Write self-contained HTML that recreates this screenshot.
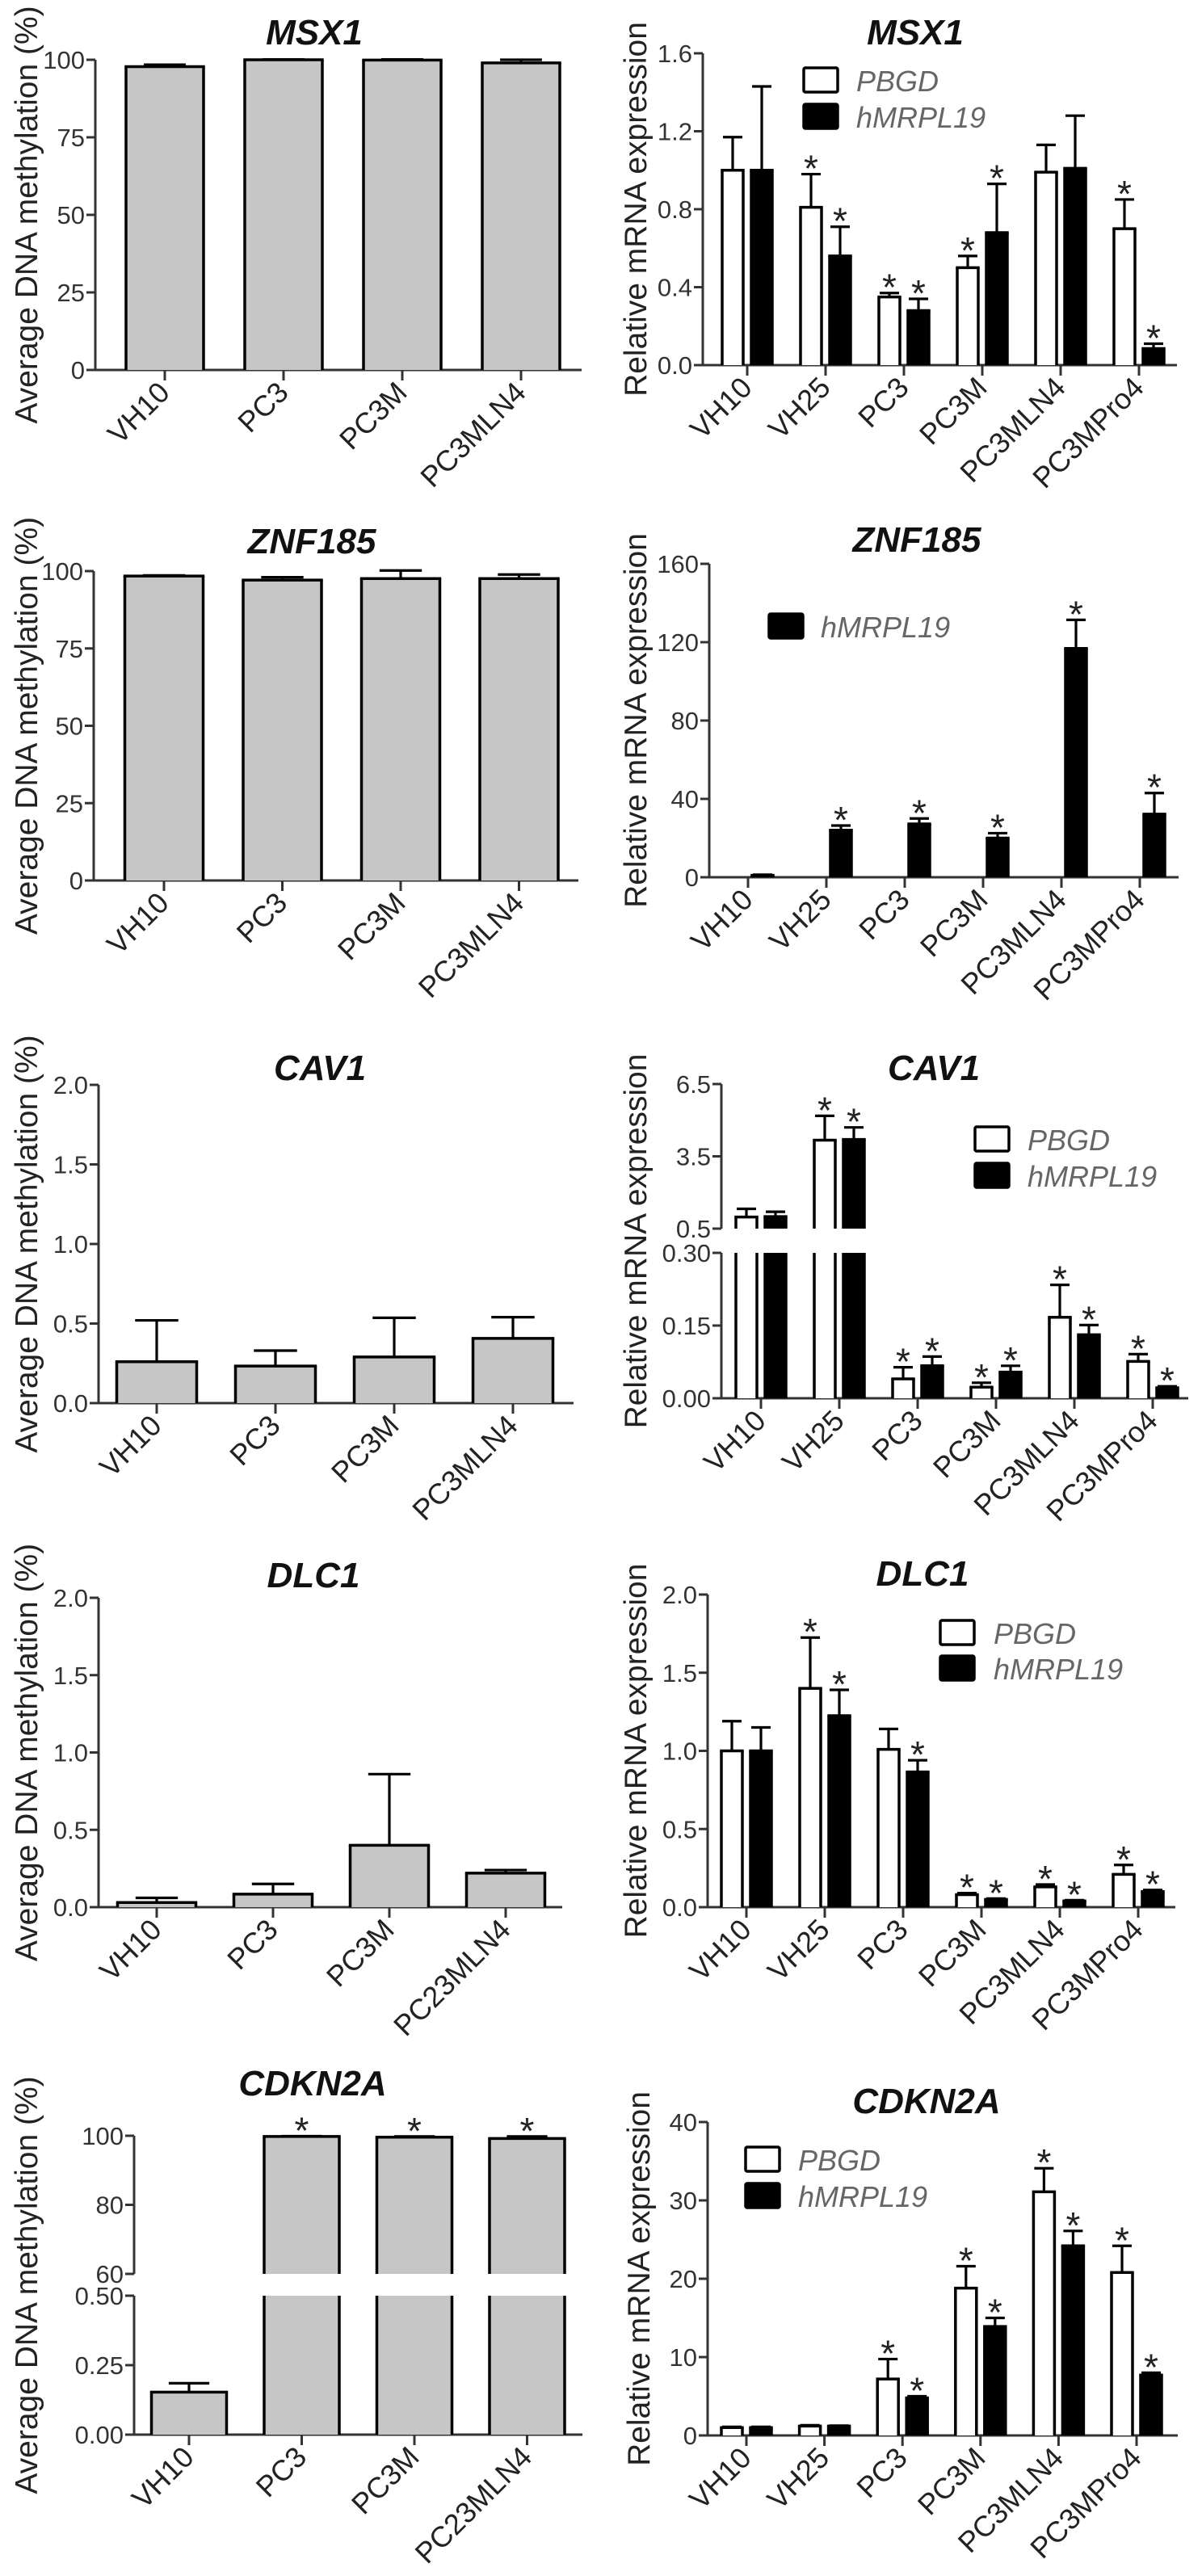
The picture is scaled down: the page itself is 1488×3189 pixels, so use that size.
<!DOCTYPE html>
<html>
<head>
<meta charset="utf-8">
<style>
  html, body { margin: 0; padding: 0; background: #fff; }
  svg { display: block; }
  text { font-family: "Liberation Sans", Arial, sans-serif; }
</style>
</head>
<body>
<svg id="fig" width="1488" height="3189" viewBox="0 0 1488 3189" xmlns="http://www.w3.org/2000/svg"></svg>
<script>
// ---------------- DATA ----------------
const methCats = ["VH10", "PC3", "PC3M", "PC3MLN4"];
const methCats2 = ["VH10", "PC3", "PC3M", "PC23MLN4"];
const exprCats = ["VH10", "VH25", "PC3", "PC3M", "PC3MLN4", "PC3MPro4"];

// MSX1
const msx1Meth = [97.8, 100, 99.9, 99.0];
const msx1MethErr = [0.6, 0.1, 0.2, 1.0];
const msx1Pbgd = [1.0, 0.81, 0.35, 0.50, 0.99, 0.70];
const msx1PbgdErr = [0.17, 0.17, 0.02, 0.06, 0.14, 0.15];
const msx1PbgdStar = [0, 1, 1, 1, 0, 1];
const msx1Mrpl = [1.0, 0.56, 0.28, 0.68, 1.01, 0.085];
const msx1MrplErr = [0.43, 0.15, 0.06, 0.25, 0.27, 0.025];
const msx1MrplStar = [0, 1, 1, 1, 0, 1];
const msx1MethTicks = [0, 25, 50, 75, 100];
const msx1MethTickLabels = ["0", "25", "50", "75", "100"];
const msx1ExprTicks = [0, 0.4, 0.8, 1.2, 1.6];
const msx1ExprTickLabels = ["0.0", "0.4", "0.8", "1.2", "1.6"];

// ZNF185
const znfMeth = [98.4, 97.1, 97.6, 97.6];
const znfMethErr = [0.2, 0.9, 2.6, 1.3];
const znfMrpl = [1, 24, 27.2, 20, 116.8, 32.2];
const znfMrplErr = [0.3, 2.4, 2.8, 2.5, 14.6, 10.8];
const znfMrplStar = [0, 1, 1, 1, 1, 1];
const znfExprTicks = [0, 40, 80, 120, 160];
const znfExprTickLabels = ["0", "40", "80", "120", "160"];

// CAV1
const cavMeth = [0.26, 0.233, 0.29, 0.407];
const cavMethErr = [0.26, 0.097, 0.246, 0.133];
const cavPbgd = [0.98, 4.17, 0.04, 0.023, 0.167, 0.076];
const cavPbgdErr = [0.34, 1.01, 0.024, 0.009, 0.067, 0.015];
const cavPbgdStar = [0, 1, 1, 1, 1, 1];
const cavMrpl = [1.0, 4.2, 0.067, 0.054, 0.131, 0.0216];
const cavMrplErr = [0.2, 0.5, 0.019, 0.013, 0.02, 0.003];
const cavMrplStar = [0, 1, 1, 1, 1, 1];
const smallMethTicks = [0, 0.5, 1.0, 1.5, 2.0];
const smallMethTickLabels = ["0.0", "0.5", "1.0", "1.5", "2.0"];
const cavExprTicks = [0, 0.15, 0.30, 0.5, 3.5, 6.5];
const cavExprTickLabels = ["0.00", "0.15", "0.30", "0.5", "3.5", "6.5"];

// DLC1
const dlcMeth = [0.03, 0.084, 0.40, 0.22];
const dlcMethErr = [0.03, 0.066, 0.46, 0.02];
const dlcPbgd = [1.0, 1.40, 1.01, 0.08, 0.13, 0.21];
const dlcPbgdErr = [0.19, 0.325, 0.13, 0.01, 0.015, 0.06];
const dlcPbgdStar = [0, 1, 0, 1, 1, 1];
const dlcMrpl = [1.0, 1.225, 0.865, 0.05, 0.04, 0.10];
const dlcMrplErr = [0.15, 0.165, 0.075, 0.005, 0.005, 0.01];
const dlcMrplStar = [0, 1, 1, 1, 1, 1];

// CDKN2A
const cdkMeth = [0.153, 99.8, 99.6, 99.2];
const cdkMethErr = [0.032, 0.1, 0.2, 0.6];
const cdkMethStar = [0, 1, 1, 1];
const cdkMethTicks = [0, 0.25, 0.5, 60, 80, 100];
const cdkMethTickLabels = ["0.00", "0.25", "0.50", "60", "80", "100"];
const cdkPbgd = [1.0, 1.2, 7.2, 18.8, 31.1, 20.8];
const cdkPbgdErr = [0.1, 0.1, 2.55, 2.8, 3.0, 3.4];
const cdkPbgdStar = [0, 0, 1, 1, 1, 1];
const cdkMrpl = [1.0, 1.2, 4.8, 13.9, 24.2, 7.7];
const cdkMrplErr = [0.1, 0.05, 0.2, 1.1, 1.9, 0.3];
const cdkMrplStar = [0, 0, 1, 1, 1, 1];
const cdkExprTicks = [0, 10, 20, 30, 40];
const cdkExprTickLabels = ["0", "10", "20", "30", "40"];

// ---------------- RENDER ----------------
const NS = "http://www.w3.org/2000/svg";
const svg = document.getElementById("fig");

function mk(tag, attrs, parent) {
  const el = document.createElementNS(NS, tag);
  for (const k in attrs) el.setAttribute(k, attrs[k]);
  (parent || svg).appendChild(el);
  return el;
}

function segOf(segs, v) {
  for (let i = 0; i < segs.length; i++) {
    if (v <= segs[i].v1 + 1e-9) return segs[i];
  }
  return segs[segs.length - 1];
}
function yPix(segs, v) {
  const s = segOf(segs, v);
  return s.p0 + (v - s.v0) / (s.v1 - s.v0) * (s.p1 - s.p0);
}

function drawPanel(p) {
  const g = mk("g", {});
  
  
  const base = p.segs[0].p0;

  const t = mk("text", {x: p.tx, y: p.ty, "text-anchor": "middle", "font-size": 44, "font-weight": "bold", "font-style": "italic", fill: "#111"}, g);
  t.textContent = p.title;
  
  

  const yl = mk("text", {x: 0, y: 0, "text-anchor": "middle", "font-size": 39, fill: "#222",
    transform: "translate(" + p.ylx + "," + ((p.segs[0].p0 + p.segs[p.segs.length - 1].p1) / 2) + ") rotate(-90)"}, g);
  yl.textContent = p.ylabel;
  
  

  p.segs.forEach(function (s) {
    const al = mk("line", {x1: p.axisX, x2: p.axisX, y1: s.p0, y2: s.p1, stroke: "#333", "stroke-width": 3}, g);
    
    
  });
  const xl = mk("line", {x1: p.axisX, x2: p.xEnd, y1: base, y2: base, stroke: "#333", "stroke-width": 3}, g);
  
  

  p.ticks.forEach(function (v, i) {
    const py = yPix(p.segs, v);
    const tm = mk("line", {x1: p.axisX - 11, x2: p.axisX, y1: py, y2: py, stroke: "#333", "stroke-width": 3}, g);
    
    
    const tl = mk("text", {x: p.axisX - 13, y: py + 11, "text-anchor": "end", "font-size": 31, fill: "#333"}, g);
    tl.textContent = p.tickLabels[i];
    
    
  });

  p.cats.forEach(function (c, i) {
    const cx = p.cat0 + i * p.step;
    const tm = mk("line", {x1: cx, x2: cx, y1: base, y2: base + 13, stroke: "#333", "stroke-width": 3}, g);
    
    
    const lx = cx + 8, ly = base + 30;
    const ct = mk("text", {x: lx, y: ly, "text-anchor": "end", "font-size": 36, fill: "#222",
      transform: "rotate(-45 " + lx + " " + ly + ")"}, g);
    ct.textContent = c;
    
    
  });

  p.series.forEach(function (sr) {
    sr.vals.forEach(function (v, i) {
      const cx = p.cat0 + i * p.step + sr.off;
      const x0 = cx - sr.w / 2, x1 = cx + sr.w / 2;
      const fill = sr.kind === "gray" ? "#c6c6c6" : (sr.kind === "white" ? "#ffffff" : "#000000");
      const bg = mk("g", {}, g);
      
      
      p.segs.forEach(function (s, si) {
        if (si > 0 && v <= s.v0) return;
        const lo = s.v0, hi = Math.min(v, s.v1);
        const yb = s.p0 + (lo - s.v0) / (s.v1 - s.v0) * (s.p1 - s.p0);
        const yt = s.p0 + (hi - s.v0) / (s.v1 - s.v0) * (s.p1 - s.p0);
        mk("rect", {x: x0, y: yt, width: sr.w, height: Math.max(0, yb - yt), fill: fill}, bg);
        mk("line", {x1: x0, x2: x0, y1: yb, y2: yt, stroke: "#000", "stroke-width": 3.5}, bg);
        mk("line", {x1: x1, x2: x1, y1: yb, y2: yt, stroke: "#000", "stroke-width": 3.5}, bg);
        if (v <= s.v1) mk("line", {x1: x0 - 1.7, x2: x1 + 1.7, y1: yt, y2: yt, stroke: "#000", "stroke-width": 3.5}, bg);
      });
      const e = sr.errs[i];
      const et = v + e;
      const ypTop = yPix(p.segs, et), ypV = yPix(p.segs, v);
      const eb = mk("g", {}, g);
      
      
      mk("line", {x1: cx, x2: cx, y1: ypV, y2: ypTop, stroke: "#000", "stroke-width": 3.2}, eb);
      const cw = Math.max(12, sr.w * 0.27);
      mk("line", {x1: cx - cw, x2: cx + cw, y1: ypTop, y2: ypTop, stroke: "#000", "stroke-width": 3.2}, eb);
      if (sr.stars && sr.stars[i]) {
        const st = mk("text", {x: cx, y: ypTop + 9, "text-anchor": "middle", "font-size": 46, fill: "#222"}, g);
        st.textContent = "*";
        
        
      }
    });
  });

  (p.legend || []).forEach(function (L) {
    const lg = mk("g", {}, g);
    
    
    mk("rect", {x: L.x, y: L.y, width: 42, height: 30, fill: L.kind === "white" ? "#fff" : "#000", stroke: "#000", "stroke-width": 3.5, rx: 2}, lg);
    const lt = mk("text", {x: L.tx, y: L.y + 29, "font-size": 36, "font-style": "italic", fill: "#666"}, lg);
    lt.textContent = L.label;
  });
}

const METH_LABEL = "Average DNA methylation (%)";
const EXPR_LABEL = "Relative mRNA expression";
const W = 26, OW = -18, OB = 18;

drawPanel({id: "msx1-methylation-chart", title: "MSX1", tx: 389, ty: 55, ylabel: METH_LABEL, ylx: 46,
  axisX: 118, xEnd: 720, segs: [{v0: 0, v1: 100, p0: 458, p1: 74}],
  ticks: msx1MethTicks, tickLabels: msx1MethTickLabels, cats: methCats, cat0: 204, step: 147,
  series: [{name: "methylation", kind: "gray", vals: msx1Meth, errs: msx1MethErr, off: 0, w: 96}]});
drawPanel({id: "msx1-expression-chart", title: "MSX1", tx: 1133, ty: 55, ylabel: EXPR_LABEL, ylx: 800,
  axisX: 870, xEnd: 1457, segs: [{v0: 0, v1: 1.6, p0: 452, p1: 66}],
  ticks: msx1ExprTicks, tickLabels: msx1ExprTickLabels, cats: exprCats, cat0: 925, step: 97,
  series: [{name: "pbgd", kind: "white", vals: msx1Pbgd, errs: msx1PbgdErr, stars: msx1PbgdStar, off: OW, w: W},
           {name: "hmrpl19", kind: "black", vals: msx1Mrpl, errs: msx1MrplErr, stars: msx1MrplStar, off: OB, w: W}],
  legend: [{kind: "white", label: "PBGD", x: 995, y: 84, tx: 1060}, {kind: "black", label: "hMRPL19", x: 995, y: 129, tx: 1060}]});

drawPanel({id: "znf185-methylation-chart", title: "ZNF185", tx: 386, ty: 685, ylabel: METH_LABEL, ylx: 46,
  axisX: 116, xEnd: 716, segs: [{v0: 0, v1: 100, p0: 1090, p1: 707}],
  ticks: msx1MethTicks, tickLabels: msx1MethTickLabels, cats: methCats, cat0: 203, step: 146.5,
  series: [{name: "methylation", kind: "gray", vals: znfMeth, errs: znfMethErr, off: 0, w: 97}]});
drawPanel({id: "znf185-expression-chart", title: "ZNF185", tx: 1135, ty: 683, ylabel: EXPR_LABEL, ylx: 800,
  axisX: 878, xEnd: 1459, segs: [{v0: 0, v1: 160, p0: 1086, p1: 698}],
  ticks: znfExprTicks, tickLabels: znfExprTickLabels, cats: exprCats, cat0: 926, step: 97,
  series: [{name: "hmrpl19", kind: "black", vals: znfMrpl, errs: znfMrplErr, stars: znfMrplStar, off: OB, w: W}],
  legend: [{kind: "black", label: "hMRPL19", x: 952, y: 760, tx: 1016}]});

drawPanel({id: "cav1-methylation-chart", title: "CAV1", tx: 396, ty: 1337, ylabel: METH_LABEL, ylx: 46,
  axisX: 122, xEnd: 710, segs: [{v0: 0, v1: 2.0, p0: 1737, p1: 1343}],
  ticks: smallMethTicks, tickLabels: smallMethTickLabels, cats: methCats, cat0: 194, step: 147,
  series: [{name: "methylation", kind: "gray", vals: cavMeth, errs: cavMethErr, off: 0, w: 99}]});
drawPanel({id: "cav1-expression-chart", title: "CAV1", tx: 1156, ty: 1337, ylabel: EXPR_LABEL, ylx: 800,
  axisX: 893, xEnd: 1471, segs: [{v0: 0, v1: 0.30, p0: 1731, p1: 1551}, {v0: 0.5, v1: 6.5, p0: 1521, p1: 1342}],
  ticks: cavExprTicks, tickLabels: cavExprTickLabels, cats: exprCats, cat0: 942, step: 97,
  series: [{name: "pbgd", kind: "white", vals: cavPbgd, errs: cavPbgdErr, stars: cavPbgdStar, off: OW, w: W},
           {name: "hmrpl19", kind: "black", vals: cavMrpl, errs: cavMrplErr, stars: cavMrplStar, off: OB, w: W}],
  legend: [{kind: "white", label: "PBGD", x: 1207, y: 1395, tx: 1272}, {kind: "black", label: "hMRPL19", x: 1207, y: 1440, tx: 1272}]});

drawPanel({id: "dlc1-methylation-chart", title: "DLC1", tx: 388, ty: 1965, ylabel: METH_LABEL, ylx: 46,
  axisX: 122, xEnd: 696, segs: [{v0: 0, v1: 2.0, p0: 2361, p1: 1978}],
  ticks: smallMethTicks, tickLabels: smallMethTickLabels, cats: methCats2, cat0: 194, step: 144,
  series: [{name: "methylation", kind: "gray", vals: dlcMeth, errs: dlcMethErr, off: 0, w: 97}]});
drawPanel({id: "dlc1-expression-chart", title: "DLC1", tx: 1142, ty: 1963, ylabel: EXPR_LABEL, ylx: 800,
  axisX: 876, xEnd: 1455, segs: [{v0: 0, v1: 2.0, p0: 2361, p1: 1974}],
  ticks: smallMethTicks, tickLabels: smallMethTickLabels, cats: exprCats, cat0: 924, step: 97,
  series: [{name: "pbgd", kind: "white", vals: dlcPbgd, errs: dlcPbgdErr, stars: dlcPbgdStar, off: OW, w: W},
           {name: "hmrpl19", kind: "black", vals: dlcMrpl, errs: dlcMrplErr, stars: dlcMrplStar, off: OB, w: W}],
  legend: [{kind: "white", label: "PBGD", x: 1164, y: 2006, tx: 1230}, {kind: "black", label: "hMRPL19", x: 1164, y: 2050, tx: 1230}]});

drawPanel({id: "cdkn2a-methylation-chart", title: "CDKN2A", tx: 387, ty: 2594, ylabel: METH_LABEL, ylx: 46,
  axisX: 166, xEnd: 721, segs: [{v0: 0, v1: 0.5, p0: 3014, p1: 2842}, {v0: 60, v1: 100, p0: 2815, p1: 2644}],
  ticks: cdkMethTicks, tickLabels: cdkMethTickLabels, cats: methCats2, cat0: 234, step: 139.5,
  series: [{name: "methylation", kind: "gray", vals: cdkMeth, errs: cdkMethErr, stars: cdkMethStar, off: 0, w: 93}]});
drawPanel({id: "cdkn2a-expression-chart", title: "CDKN2A", tx: 1147, ty: 2616, ylabel: EXPR_LABEL, ylx: 804,
  axisX: 876, xEnd: 1458, segs: [{v0: 0, v1: 40, p0: 3015, p1: 2627}],
  ticks: cdkExprTicks, tickLabels: cdkExprTickLabels, cats: exprCats, cat0: 924, step: 96.6,
  series: [{name: "pbgd", kind: "white", vals: cdkPbgd, errs: cdkPbgdErr, stars: cdkPbgdStar, off: OW, w: W},
           {name: "hmrpl19", kind: "black", vals: cdkMrpl, errs: cdkMrplErr, stars: cdkMrplStar, off: OB, w: W}],
  legend: [{kind: "white", label: "PBGD", x: 923, y: 2658, tx: 988}, {kind: "black", label: "hMRPL19", x: 923, y: 2703, tx: 988}]});
</script>
</body>
</html>
